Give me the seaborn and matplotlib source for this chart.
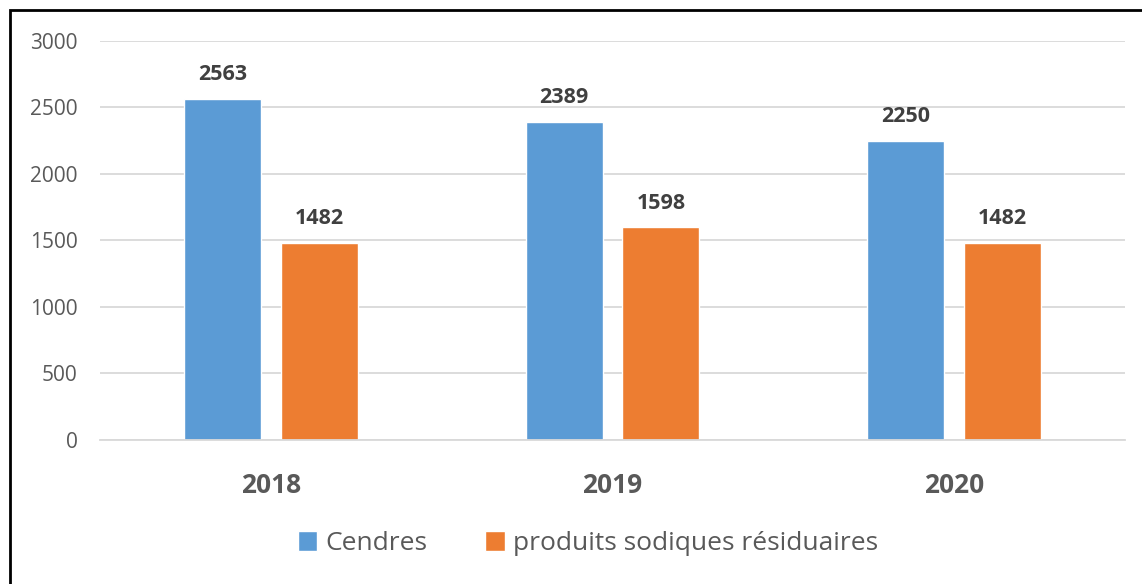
import pandas as pd
import matplotlib.pyplot as plt
import seaborn as sns
from matplotlib.patches import Rectangle

# data
years = ["2018", "2019", "2020"]
cendres = [2563, 2389, 2250]
produits = [1482, 1598, 1482]
series = ["Cendres", "produits sodiques résiduaires"]

df = pd.DataFrame({
    "year": years * 2,
    "value": cendres + produits,
    "series": [series[0]] * 3 + [series[1]] * 3,
})

sns.set_style("white")
plt.rcParams["font.family"] = ["Open Sans", "DejaVu Sans"]
grey = "#595959"

fig = plt.figure(figsize=(11.42, 5.84), dpi=100)
ax = fig.add_axes([0.0876, 0.2466, 0.8976, 0.6832])

sns.barplot(
    data=df, x="year", y="value", hue="series",
    palette=["#5B9BD5", "#ED7D31"],
    width=0.566, gap=0.205, saturation=1,
    ax=ax, legend=True,
)

# value labels
for cont in ax.containers:
    ax.bar_label(cont, padding=10, fontsize=15.5, fontweight="bold", color="#404040")

ax.set_ylim(0, 3000)
ax.set_xlim(-0.5, 2.5)
ax.set_yticks(range(0, 3001, 500))
ax.yaxis.grid(True, color="#D9D9D9", linewidth=1.3)
ax.set_axisbelow(True)
for s in ["left", "right", "top"]:
    ax.spines[s].set_visible(False)
ax.spines["bottom"].set_color("#D9D9D9")
ax.spines["bottom"].set_linewidth(1.3)
ax.tick_params(axis="y", length=0, labelsize=15, labelcolor=grey, pad=16)
ax.tick_params(axis="x", length=0, labelsize=19, labelcolor=grey, pad=23)
for t in ax.get_xticklabels():
    t.set_fontweight("bold")
ax.set_xlabel("")
ax.set_ylabel("")

ax.legend(
    loc="center", bbox_to_anchor=(0.476, -0.26), ncol=2, frameon=False,
    fontsize=19, labelcolor=grey, handlelength=0.75, handleheight=0.75,
    handletextpad=0.3, columnspacing=2.2,
)

# outer frame
fig.patches.append(Rectangle((10 / 1142, -0.1), 1.2, 1 - 10 / 584 + 0.1,
                             transform=fig.transFigure, fill=False,
                             edgecolor="black", linewidth=2))

plt.savefig("out.png", dpi=100)
